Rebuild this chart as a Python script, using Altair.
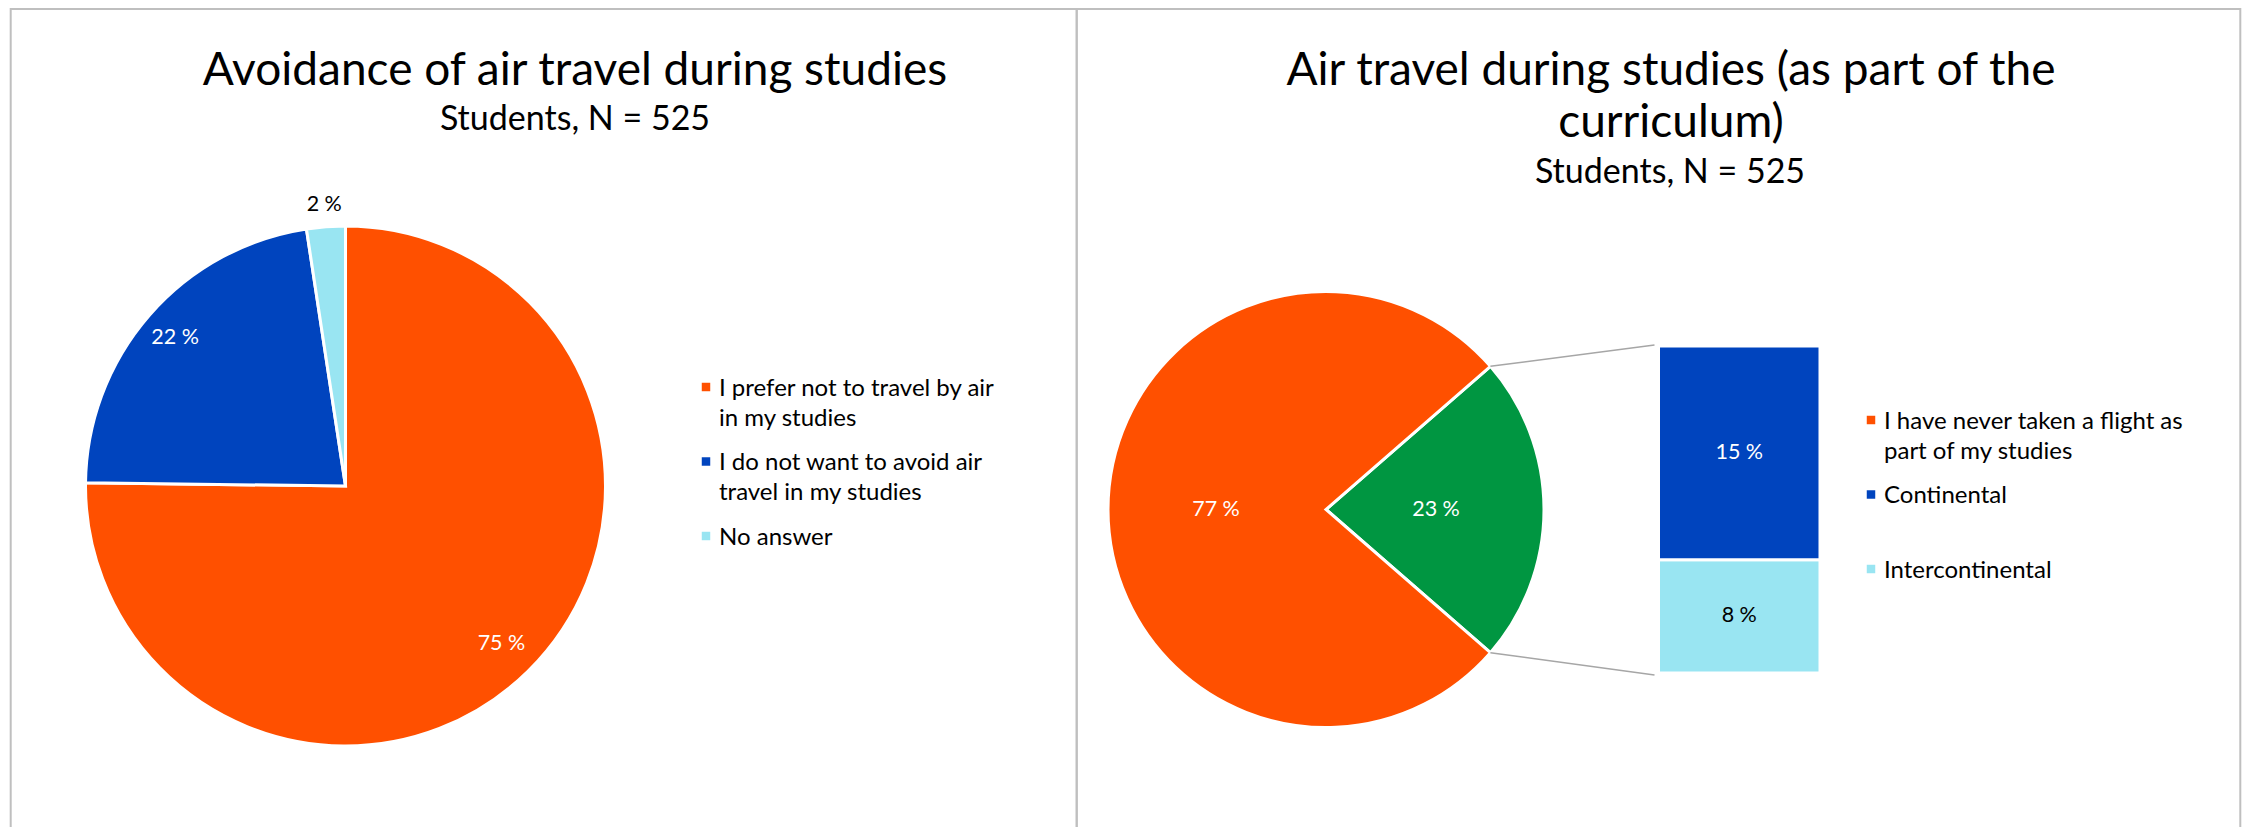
import math
import altair as alt
import pandas as pd

# ---------------- data ----------------
left_title = "Avoidance of air travel during studies"
left_subtitle = "Students, N = 525"
left_categories = [
    "I prefer not to travel by air in my studies",
    "I do not want to avoid air travel in my studies",
    "No answer",
]
left_values = [75.2, 22.4, 2.4]
left_labels = ["75 %", "22 %", "2 %"]
left_legend_text = [
    "I prefer not to travel by air\nin my studies",
    "I do not want to avoid air\ntravel in my studies",
    "No answer",
]

right_title = "Air travel during studies (as part of the\ncurriculum)"
right_subtitle = "Students, N = 525"
right_categories = ["Has taken a flight as part of studies",
                    "I have never taken a flight as part of my studies"]
right_values = [22.8, 77.2]
right_labels = ["23 %", "77 %"]

bar_categories = ["Intercontinental", "Continental"]
bar_values = [7.9, 14.9]
bar_labels = ["8 %", "15 %"]

right_legend_categories = ["I have never taken a flight as part of my studies",
                           "Continental", "Intercontinental"]
right_legend_text = [
    "I have never taken a flight as\npart of my studies",
    "Continental",
    "Intercontinental",
]

# ---------------- styles ----------------
ORANGE = "#FF5000"
BLUE = "#0044BE"
CYAN = "#99E5F2"
GREEN = "#009641"
colors = {
    left_categories[0]: ORANGE,
    left_categories[1]: BLUE,
    left_categories[2]: CYAN,
    right_categories[0]: GREEN,
    right_categories[1]: ORANGE,
    "Continental": BLUE,
    "Intercontinental": CYAN,
}
FONT = "Lato"
TITLE_SIZE = 46
SUB_SIZE = 34
LEGEND_SIZE = 24
LABEL_SIZE = 21.5

W, H = 2236, 819


def vx(x):
    return x - 8


def vy(y):
    return y - 8


# layout
L_CX, L_CY, L_R = vx(345.5), vy(486), 260
R_CX, R_CY, R_R = vx(1326), vy(509.5), 218
left_label_r = [222, 226, 282]
left_label_colors = ["white", "white", "black"]
right_label_r = [110, 110]
BAR_X0, BAR_X1 = vx(1658.5), vx(1820)
BAR_BOTTOM, BAR_TOP = vy(673), vy(346)

# ---------------- tables ----------------
left_df = pd.DataFrame({
    "category": left_categories,
    "value": left_values,
    "label": left_labels,
    "order": list(range(len(left_categories))),
})
left_df["color"] = left_df["category"].map(colors)
left_df["label_r"] = left_label_r
left_df["label_color"] = left_label_colors

right_df = pd.DataFrame({
    "category": right_categories,
    "value": right_values,
    "label": right_labels,
    "order": list(range(len(right_categories))),
})
right_df["color"] = right_df["category"].map(colors)
right_df["label_r"] = right_label_r
right_df["label_color"] = "white"

bar_df = pd.DataFrame({
    "category": bar_categories,
    "value": bar_values,
    "label": bar_labels,
    "order": list(range(len(bar_categories))),
})
bar_df["color"] = bar_df["category"].map(colors)
bar_df["label_color"] = ["black", "white"]

left_leg_df = pd.DataFrame({
    "row": list(range(len(left_categories))),
    "text": left_legend_text,
    "color": [colors[c] for c in left_categories],
})
right_leg_df = pd.DataFrame({
    "row": list(range(len(right_legend_categories))),
    "text": right_legend_text,
    "color": [colors[c] for c in right_legend_categories],
})

one = pd.DataFrame({"k": [0]})

# ---------------- layers ----------------
layers = []

# panel borders
border_color = "#BFBFBF"
for x0, x1 in [(vx(10.7), vx(1076.7)), (vx(1076.7), vx(2240.3))]:
    layers.append(
        alt.Chart(one).mark_rect(fill="white", fillOpacity=0, stroke=border_color, strokeWidth=2).encode(
            x=alt.value(x0), x2=alt.value(x1), y=alt.value(1), y2=alt.value(H + 20)
        )
    )


def title_layer(text, cx, base_y, size, line_height=None):
    kw = dict(font=FONT, fontSize=size, align="center", baseline="alphabetic", color="black")
    if line_height is not None:
        kw["lineBreak"] = "\n"
        kw["lineHeight"] = line_height
    return alt.Chart(pd.DataFrame({"t": [text]})).mark_text(**kw).encode(
        text="t:N", x=alt.value(cx), y=alt.value(base_y)
    )


layers.append(title_layer(left_title, vx(575), vy(85), TITLE_SIZE))
layers.append(title_layer(left_subtitle, vx(575), vy(130), SUB_SIZE))
layers.append(title_layer(right_title, vx(1671), vy(85), TITLE_SIZE, 52))
layers.append(title_layer(right_subtitle, vx(1670), vy(182.5), SUB_SIZE))


def pie_layers(df, cx, cy, r, start):
    total = float(df["value"].sum())
    theta_scale = alt.Scale(domain=[0, total], range=[start, start + 2 * math.pi])
    base = (
        alt.Chart(df)
        .transform_window(cum="sum(value)", sort=[alt.SortField("order")])
        .transform_calculate(start="datum.cum - datum.value",
                             mid="datum.cum - datum.value / 2")
    )
    arcs = base.mark_arc(outerRadius=r, stroke="white", strokeWidth=3).encode(
        theta=alt.Theta("start:Q", scale=theta_scale),
        theta2=alt.Theta2("cum:Q"),
        color=alt.Color("color:N", scale=None),
        x=alt.value(cx), y=alt.value(cy),
    )
    text = base.mark_text(font=FONT, fontSize=LABEL_SIZE, align="center", baseline="middle").encode(
        theta=alt.Theta("mid:Q", scale=theta_scale),
        radius=alt.Radius("label_r:Q", scale=None),
        text="label:N",
        color=alt.Color("label_color:N", scale=None),
        x=alt.value(cx), y=alt.value(cy),
    )
    return [arcs, text]


layers += pie_layers(left_df, L_CX, L_CY, L_R, 0.0)
green_share = right_values[0] / sum(right_values)
r_start = math.pi / 2 - green_share * math.pi
layers += pie_layers(right_df, R_CX, R_CY, R_R, r_start)

# connector lines from the green slice to the bar
a0, a1 = r_start, r_start + green_share * 2 * math.pi
p0 = (R_CX + R_R * math.sin(a0), R_CY - R_R * math.cos(a0))
p1 = (R_CX + R_R * math.sin(a1), R_CY - R_R * math.cos(a1))
for (px, py), (qx, qy) in [(p0, (vx(1654.5), vy(345))), (p1, (vx(1654.5), vy(675)))]:
    layers.append(
        alt.Chart(one).mark_rule(color="#A6A6A6", strokeWidth=1.5).encode(
            x=alt.value(px), y=alt.value(py), x2=alt.value(qx), y2=alt.value(qy)
        )
    )

# stacked bar (bar of pie)
bar_scale = alt.Scale(domain=[0, sum(bar_values)], range=[BAR_BOTTOM, BAR_TOP])
bar_base = (
    alt.Chart(bar_df)
    .transform_window(cum="sum(value)", sort=[alt.SortField("order")])
    .transform_calculate(start="datum.cum - datum.value",
                         mid="datum.cum - datum.value / 2")
)
layers.append(
    bar_base.mark_rect(stroke="white", strokeWidth=3).encode(
        x=alt.value(BAR_X0), x2=alt.value(BAR_X1),
        y=alt.Y("start:Q", scale=bar_scale, axis=None),
        y2=alt.Y2("cum:Q"),
        color=alt.Color("color:N", scale=None),
    )
)
layers.append(
    bar_base.mark_text(font=FONT, fontSize=LABEL_SIZE, align="center", baseline="middle").encode(
        x=alt.value((BAR_X0 + BAR_X1) / 2),
        y=alt.Y("mid:Q", scale=bar_scale, axis=None),
        text="label:N",
        color=alt.Color("label_color:N", scale=None),
    )
)


def legend_layers(df, sq_x, text_x, y_first, y_last):
    n = len(df)
    ys = alt.Y("row:Q", scale=alt.Scale(domain=[0, n - 1], range=[y_first, y_last]), axis=None)
    sq = alt.Chart(df).mark_square(size=72, opacity=1).encode(
        x=alt.value(sq_x), y=ys, color=alt.Color("color:N", scale=None)
    )
    tx = alt.Chart(df).mark_text(
        font=FONT, fontSize=LEGEND_SIZE, align="left", baseline="alphabetic", dy=8.5,
        lineBreak="\n", lineHeight=30, color="black"
    ).encode(x=alt.value(text_x), y=ys, text="text:N")
    return [sq, tx]


layers += legend_layers(left_leg_df, vx(706), vx(719), vy(387), vy(536))
layers += legend_layers(right_leg_df, vx(1871), vx(1884), vy(420), vy(569))

chart = (
    alt.layer(*layers)
    .resolve_scale(theta="independent", y="independent")
    .properties(width=W, height=H, autosize=alt.AutoSizeParams(type="none"), padding=0, background="white")
    .configure_view(strokeWidth=0)
)

chart.save("out.html", embed_options={"renderer": "svg", "actions": False})
